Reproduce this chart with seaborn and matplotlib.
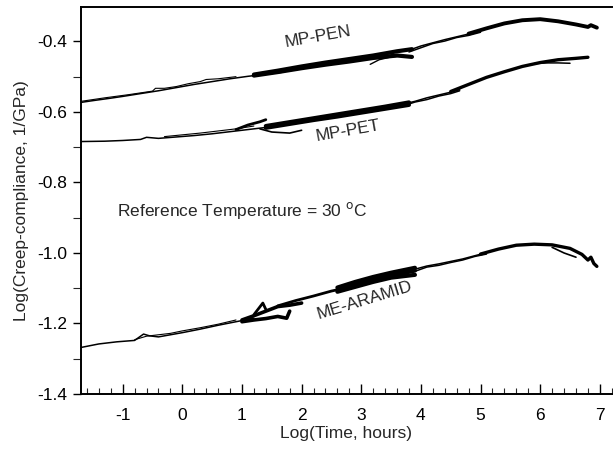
import matplotlib
matplotlib.use("Agg")
import matplotlib.pyplot as plt
import seaborn as sns
import numpy as np
from matplotlib.ticker import MultipleLocator, FixedLocator, FuncFormatter

sns.set_theme(style="white")
plt.rcParams['font.family'] = ['Liberation Sans', 'DejaVu Sans']
plt.rcParams['axes.unicode_minus'] = False

# ---------------- data ----------------
# MP-PEN
pen_x1 = [-1.70, -1.50, -1.20, -1.00, -0.70, -0.40, -0.10, 0.20, 0.50, 0.80, 1.10, 1.40, 1.70]
pen_y1 = [-0.573, -0.568, -0.561, -0.556, -0.548, -0.540, -0.531, -0.522, -0.514, -0.506, -0.499, -0.493, -0.487]
pen_x2 = [-1.70, -1.30, -0.90, -0.50, -0.45, -0.30, -0.10, 0.10, 0.30, 0.40, 0.60, 0.90]
pen_y2 = [-0.570, -0.560, -0.551, -0.541, -0.533, -0.533, -0.528, -0.520, -0.514, -0.508, -0.506, -0.500]
pen_x3 = [1.20, 1.60, 2.00, 2.40, 2.80, 3.20, 3.60, 3.85]
pen_y3 = [-0.497, -0.487, -0.476, -0.466, -0.457, -0.447, -0.440, -0.444]
pen_y4 = [-0.494, -0.483, -0.471, -0.460, -0.450, -0.440, -0.428, -0.422]
pen_xb = [3.15, 3.30, 3.50, 3.70, 3.85]
pen_yb = [-0.465, -0.452, -0.444, -0.441, -0.442]
pen_x5 = [3.80, 4.00, 4.20, 4.40, 4.60, 4.80, 5.00]
pen_y5 = [-0.425, -0.413, -0.404, -0.395, -0.387, -0.379, -0.372]
pen_y6 = [-0.430, -0.418, -0.406, -0.399, -0.389, -0.383, -0.374]
pen_x7 = [4.80, 5.10, 5.40, 5.70, 6.00, 6.30, 6.60, 6.80, 6.85, 6.95]
pen_y7 = [-0.378, -0.363, -0.349, -0.340, -0.337, -0.343, -0.352, -0.359, -0.354, -0.361]

# MP-PET
pet_x1 = [-1.70, -1.30, -1.00, -0.70, -0.60, -0.40, -0.10, 0.20, 0.50, 0.80, 1.10, 1.40]
pet_y1 = [-0.684, -0.683, -0.681, -0.678, -0.672, -0.675, -0.671, -0.667, -0.662, -0.656, -0.650, -0.644]
pet_x2 = [-0.30, 0.00, 0.30, 0.60, 0.90, 1.20]
pet_y2 = [-0.670, -0.665, -0.660, -0.654, -0.648, -0.640]
pet_xs = [0.90, 1.10, 1.30, 1.40]
pet_ys = [-0.650, -0.637, -0.628, -0.622]
pet_xl = [1.30, 1.50, 1.80, 2.00]
pet_yl = [-0.648, -0.657, -0.660, -0.652]
pet_x3 = [1.40, 1.80, 2.20, 2.60, 3.00, 3.40, 3.80]
pet_y3 = [-0.645, -0.634, -0.623, -0.613, -0.602, -0.591, -0.580]
pet_y4 = [-0.640, -0.629, -0.618, -0.607, -0.596, -0.585, -0.573]
pet_x5 = [3.70, 3.90, 4.10, 4.30, 4.50, 4.65]
pet_y5 = [-0.578, -0.570, -0.560, -0.552, -0.544, -0.537]
pet_y6 = [-0.583, -0.572, -0.565, -0.555, -0.548, -0.540]
pet_x7 = [4.50, 4.80, 5.10, 5.40, 5.70, 6.00, 6.30, 6.60, 6.80]
pet_y7 = [-0.542, -0.522, -0.502, -0.486, -0.471, -0.460, -0.452, -0.448, -0.445]
pet_xf = [5.90, 6.10, 6.30, 6.50]
pet_yf = [-0.463, -0.461, -0.461, -0.462]

# ME-ARAMID
ar_x1 = [-1.70, -1.40, -1.10, -0.80, -0.65, -0.55, -0.40, -0.20, 0.00, 0.30, 0.60, 0.90, 1.20]
ar_y1 = [-1.268, -1.258, -1.252, -1.248, -1.230, -1.235, -1.238, -1.232, -1.226, -1.216, -1.205, -1.195, -1.185]
ar_x2 = [-0.80, -0.60, -0.40, -0.20, 0.00, 0.30, 0.60, 0.90]
ar_y2 = [-1.246, -1.236, -1.232, -1.228, -1.221, -1.212, -1.202, -1.190]
ar_xu = [1.00, 1.20, 1.40, 1.60, 1.80, 2.00]
ar_yu = [-1.190, -1.178, -1.165, -1.152, -1.148, -1.142]
ar_xl = [1.00, 1.20, 1.40, 1.60, 1.75, 1.80]
ar_yl = [-1.195, -1.190, -1.186, -1.180, -1.185, -1.165]
ar_xs = [1.20, 1.35, 1.40]
ar_ys = [-1.175, -1.142, -1.160]
ar_xm = [1.60, 1.90, 2.20, 2.50, 2.80]
ar_ym = [-1.150, -1.135, -1.122, -1.108, -1.097]
ar_x3 = [2.60, 2.90, 3.20, 3.50, 3.90]
ar_y3 = [-1.105, -1.090, -1.076, -1.064, -1.050]
ar_y4 = [-1.098, -1.082, -1.068, -1.056, -1.042]
ar_y5 = [-1.110, -1.096, -1.082, -1.070, -1.062]
ar_x6 = [3.90, 4.10, 4.30, 4.50, 4.70, 4.90, 5.10]
ar_y6 = [-1.046, -1.037, -1.031, -1.024, -1.017, -1.008, -0.999]
ar_y7 = [-1.052, -1.040, -1.035, -1.027, -1.020, -1.010, -1.003]
ar_x8 = [5.00, 5.30, 5.60, 5.90, 6.20, 6.50, 6.70, 6.80, 6.85, 6.90, 6.95]
ar_y8 = [-1.003, -0.989, -0.978, -0.975, -0.977, -0.987, -1.004, -1.020, -1.012, -1.030, -1.038]
ar_xt = [6.20, 6.40, 6.60]
ar_yt = [-0.984, -1.000, -1.012]

x_ticks = [-1, 0, 1, 2, 3, 4, 5, 6, 7]
y_ticks = [-1.4, -1.2, -1.0, -0.8, -0.6, -0.4]

# ---------------- plot ----------------
fig = plt.figure(figsize=(6.13, 4.5), dpi=100)
ax = fig.add_axes([0.132, 0.1244, 0.866, 0.8596])

segments = [
    (pen_x1, pen_y1, 1.1), (pen_x2, pen_y2, 0.8), (pen_x3, pen_y3, 3.0), (pen_x3, pen_y4, 3.0),
    (pen_xb, pen_yb, 1.0), (pen_x5, pen_y5, 1.1), (pen_x5, pen_y6, 1.1), (pen_x7, pen_y7, 2.8),
    (pet_x1, pet_y1, 1.1), (pet_x2, pet_y2, 0.8), (pet_xs, pet_ys, 2.0), (pet_xl, pet_yl, 1.2),
    (pet_x3, pet_y3, 3.0), (pet_x3, pet_y4, 3.0), (pet_x5, pet_y5, 1.1), (pet_x5, pet_y6, 1.1),
    (pet_x7, pet_y7, 2.4), (pet_xf, pet_yf, 1.1),
    (ar_x1, ar_y1, 1.1), (ar_x2, ar_y2, 0.8), (ar_xu, ar_yu, 2.6), (ar_xl, ar_yl, 2.6),
    (ar_xs, ar_ys, 2.0), (ar_xm, ar_ym, 2.0), (ar_x3, ar_y3, 3.0), (ar_x3, ar_y4, 3.0),
    (ar_x3, ar_y5, 3.0), (ar_x6, ar_y6, 1.1), (ar_x6, ar_y7, 1.1), (ar_x8, ar_y8, 2.4),
    (ar_xt, ar_yt, 1.2),
]
for xs, ys, lw in segments:
    sns.lineplot(x=xs, y=ys, ax=ax, color="black", linewidth=lw, sort=False,
                 estimator=None, legend=False)

ax.set_xlim(-1.70, 7.2)
ax.set_ylim(-1.40, -0.303)
ax.xaxis.set_major_locator(FixedLocator(x_ticks))
ax.xaxis.set_minor_locator(MultipleLocator(0.2))
ax.yaxis.set_major_locator(FixedLocator(y_ticks))
ax.yaxis.set_minor_locator(MultipleLocator(0.1))
ax.yaxis.set_major_formatter(FuncFormatter(lambda v, p: f"{v:.1f}"))
ax.xaxis.set_major_formatter(FuncFormatter(lambda v, p: f"{v:.0f}"))

ax.tick_params(axis="x", which="major", direction="in", length=7, width=1, labelsize=12.5,
               colors="black", bottom=True, top=False, pad=10)
ax.tick_params(axis="x", which="minor", direction="in", length=4, width=0.8, bottom=True, top=False)
ax.tick_params(axis="y", which="major", direction="out", length=6, width=1, labelsize=12.5,
               colors="black", left=True, right=False, pad=4)
ax.tick_params(axis="y", which="minor", direction="out", length=6, width=0.8, left=True, right=False)

for s in ["left", "bottom", "top"]:
    ax.spines[s].set_color("black")
    ax.spines[s].set_linewidth(1.4)
ax.spines["right"].set_visible(False)

ax.set_xlabel("Log(Time, hours)", fontsize=12.5, labelpad=2)
ax.set_ylabel("Log(Creep-compliance, 1/GPa)", fontsize=12.5, labelpad=6)

ax.text(2.27, -0.388, "MP-PEN", fontsize=12.5, rotation=10, ha="center", va="center")
ax.text(2.78, -0.655, "MP-PET", fontsize=12.5, rotation=10, ha="center", va="center")
ax.text(3.05, -1.135, "ME-ARAMID", fontsize=12.5, rotation=17, ha="center", va="center")
ax.text(-1.1, -0.88, "Reference Temperature = 30 $^{\\mathrm{o}}$C", fontsize=12.5,
        ha="left", va="center")

fig.savefig("out.png", dpi=100)
